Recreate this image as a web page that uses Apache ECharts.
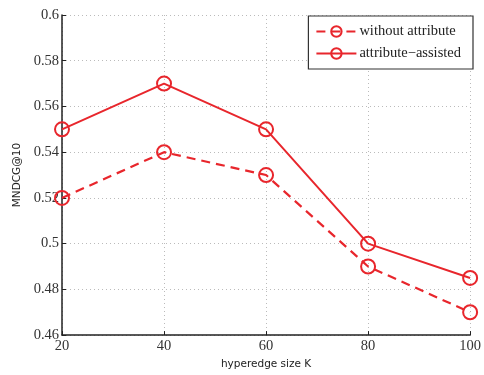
<!DOCTYPE html>
<html><head><meta charset="utf-8">
<script src="https://cdn.jsdelivr.net/npm/echarts@6/dist/echarts.min.js"></script>
<style>html,body{margin:0;padding:0;background:#fff}#c{width:484px;height:375px}</style>
</head><body><div id="c"></div>
<script>
var hyperedgeSizes = [20, 40, 60, 80, 100];
var withoutAttribute = [0.52, 0.54, 0.53, 0.49, 0.47];
var attributeAssisted = [0.55, 0.57, 0.55, 0.50, 0.485];
var seriesNames = ['without attribute', 'attribute\u2212assisted'];

function pairs(xs, ys) { return xs.map(function (x, i) { return [x, ys[i]]; }); }
var red = '#e8262c';
var chart = echarts.init(document.getElementById('c'));
chart.setOption({
  animation: false,
  backgroundColor: '#fff',
  grid: { left: 62, right: 13, top: 15, bottom: 37 },
  legend: {
    orient: 'vertical', right: 11, top: 16,
    padding: [8, 12, 8, 7], itemGap: 7, itemWidth: 40, itemHeight: 13,
    borderColor: '#333', borderWidth: 1.2, backgroundColor: '#fff',
    textStyle: { fontFamily: 'Liberation Serif', fontSize: 14.5, color: '#222', padding: [0, 0, 0, -2] },
    data: seriesNames
  },
  xAxis: {
    type: 'value', min: 20, max: 100, interval: 20,
    name: 'hyperedge size K', nameLocation: 'middle', nameGap: 22,
    nameTextStyle: { fontFamily: 'DejaVu Sans', fontSize: 10.5, color: '#222' },
    axisLine: { lineStyle: { color: '#222', width: 1.5 } },
    axisTick: { inside: true, length: 4, lineStyle: { color: '#222' } },
    axisLabel: { fontFamily: 'Liberation Serif', fontSize: 14.5, color: '#333', margin: 4 },
    splitLine: { show: true, lineStyle: { type: [1, 3], color: '#bbb' } }
  },
  yAxis: {
    type: 'value', min: 0.46, max: 0.6, interval: 0.02,
    name: 'MNDCG@10', nameLocation: 'middle', nameGap: 38,
    nameTextStyle: { fontFamily: 'DejaVu Sans', fontSize: 10.5, color: '#222' },
    axisLine: { show: true, lineStyle: { color: '#222', width: 1.5 } },
    axisTick: { show: true, inside: true, length: 4, lineStyle: { color: '#222' } },
    axisLabel: { fontFamily: 'Liberation Serif', fontSize: 14.5, color: '#333', margin: 3 },
    splitLine: { show: true, lineStyle: { type: [1, 3], color: '#bbb' } }
  },
  series: [
    {
      name: seriesNames[0], type: 'line', data: pairs(hyperedgeSizes, withoutAttribute),
      symbol: 'circle', symbolSize: 14, showAllSymbol: true,
      lineStyle: { color: red, width: 2.2, type: [9, 6] },
      itemStyle: { color: 'rgba(255,255,255,0)', borderColor: red, borderWidth: 2 }
    },
    {
      name: seriesNames[1], type: 'line', data: pairs(hyperedgeSizes, attributeAssisted),
      symbol: 'circle', symbolSize: 14, showAllSymbol: true,
      lineStyle: { color: red, width: 2 },
      itemStyle: { color: 'rgba(255,255,255,0)', borderColor: red, borderWidth: 2 }
    }
  ]
});
</script></body></html>
